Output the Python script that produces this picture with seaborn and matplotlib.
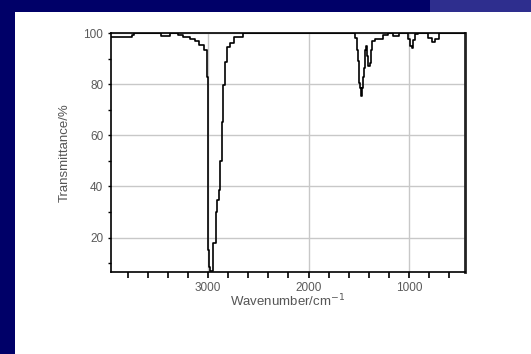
import numpy as np
import pandas as pd
import seaborn as sns
import matplotlib
matplotlib.use("Agg")
import matplotlib.pyplot as plt
from matplotlib.patches import Rectangle
from matplotlib.ticker import MultipleLocator

# IR spectrum (wavenumber in cm^-1, transmittance in %)
wavenumber = [3965, 3760, 3745, 3730, 3470, 3458, 3390, 3375, 3310, 3290, 3200,
              3150, 3110, 3060, 3020, 3007, 3005, 2995, 2990, 2980, 2960, 2950,
              2947, 2930, 2917, 2900, 2883, 2870, 2860, 2843, 2823, 2800, 2766,
              2716, 2582, 1554, 1527, 1511, 1497, 1494, 1481, 1471, 1461, 1454,
              1444, 1431, 1421, 1411, 1398, 1381, 1372, 1355, 1322, 1272, 1255,
              1172, 1156, 1106, 1090, 1017, 997, 983, 964, 947, 930, 891, 824,
              791, 758, 725, 675, 443]
transmittance = [98.5, 98.5, 99.3, 100, 100, 98.8, 98.8, 100, 100, 99.2, 98.4,
                 97.8, 97.0, 95.4, 93.5, 90.3, 83.0, 15.0, 8.5, 6.8, 6.8, 9.0,
                 17.7, 17.7, 30.0, 34.6, 38.5, 50.0, 65.3, 79.7, 88.9, 94.8, 96.3,
                 98.4, 100, 100, 98.0, 93.5, 89.0, 80.6, 78.7, 75.5, 78.7, 83.0,
                 86.5, 93.5, 95.0, 91.0, 87.0, 88.4, 93.5, 96.8, 97.7, 97.7, 99.4,
                 100, 99.0, 99.0, 100, 100, 97.7, 95.0, 94.2, 97.4, 99.7, 100, 100,
                 98.0, 96.4, 97.7, 100, 100]

x_ticks = [3000, 2000, 1000]
y_ticks = [20, 40, 60, 80, 100]

spectrum = pd.DataFrame({"Wavenumber": wavenumber, "Transmittance": transmittance})

sns.set_theme(style="white")
plt.rcParams['font.family'] = ['Liberation Sans', 'DejaVu Sans']

fig = plt.figure(figsize=(5.31, 3.54), dpi=100)
fig.patch.set_facecolor("#000068")
# slide decorations: white panel and lighter corner band
fig.patches.append(Rectangle((15 / 531, 0), 1 - 15 / 531, 342 / 354,
                             transform=fig.transFigure, facecolor="white",
                             edgecolor="none", zorder=-5))
fig.patches.append(Rectangle((430 / 531, 342 / 354), 101 / 531, 12 / 354,
                             transform=fig.transFigure, facecolor="#2e2e8e",
                             edgecolor="none", zorder=-5))

ax = fig.add_axes([111 / 531, 82 / 354, 354 / 531, 238.7 / 354])
ax.set_zorder(1)
sns.lineplot(data=spectrum, x="Wavenumber", y="Transmittance", ax=ax,
             color="black", linewidth=1.2, drawstyle="steps-mid", sort=False)

ax.set_xlim(3965, 443)
ax.set_ylim(6.5, 100)
ax.set_xticks(x_ticks)
ax.set_yticks(y_ticks)
ax.xaxis.set_minor_locator(MultipleLocator(200))
ax.yaxis.set_minor_locator(MultipleLocator(10))
ax.grid(True, which="major", color="#c8c8c8", linewidth=1.0)
ax.set_axisbelow(True)

for side in ["left", "bottom", "top"]:
    ax.spines[side].set_color("black")
    ax.spines[side].set_linewidth(1.2)
ax.spines["right"].set_color("#222222")
ax.spines["right"].set_linewidth(2.0)

ax.tick_params(axis="both", which="both", direction="out", colors="black",
               labelcolor="#5a5a5a", labelsize=8.5, bottom=True, left=True)
ax.tick_params(axis="x", which="both", length=4, width=1.2, pad=3)
ax.tick_params(axis="y", which="both", length=2.5, width=1.0, pad=3)

ax.set_xlabel("Wavenumber/cm$^{-1}$", fontsize=9.5, color="#555555", labelpad=-1)
ax.set_ylabel("Transmittance/%", fontsize=9.5, color="#555555", labelpad=9)

fig.savefig("out.png", dpi=100, facecolor=fig.get_facecolor())
